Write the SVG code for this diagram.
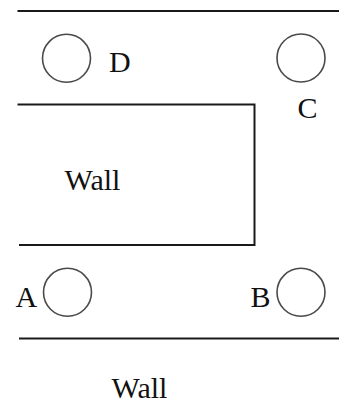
<svg xmlns="http://www.w3.org/2000/svg" width="339" height="404" viewBox="0 0 339 404">
<style>
.wall{fill:none;stroke:#1a1a1a;stroke-width:2}
.post{fill:none;stroke:#4a4a4a;stroke-width:1.6}
.lbl{font-family:"Liberation Serif","Times New Roman",serif;font-size:30px;fill:#111}
</style>
<rect width="339" height="404" fill="#fff"/>
<g id="walls">
<line class="wall" x1="17.5" y1="11" x2="339" y2="11"/>
<polyline class="wall" points="17.5,104.5 254.5,104.5 254.5,245 19,245"/>
<line class="wall" x1="19" y1="338.5" x2="339" y2="338.5"/>
</g>
<g id="D"><circle class="post" cx="66.5" cy="58.3" r="24"/><text class="lbl" x="109" y="72">D</text></g>
<g id="C"><circle class="post" cx="301" cy="58" r="24"/><text class="lbl" x="297.5" y="118">C</text></g>
<g id="A"><circle class="post" cx="67.5" cy="292.3" r="24"/><text class="lbl" x="15.5" y="307">A</text></g>
<g id="B"><circle class="post" cx="301" cy="292.3" r="24"/><text class="lbl" x="250.5" y="307">B</text></g>
<g id="wall-inner"><text class="lbl" x="64.5" y="190">Wall</text></g>
<g id="wall-bottom"><text class="lbl" x="111.5" y="397.5">Wall</text></g>
</svg>
